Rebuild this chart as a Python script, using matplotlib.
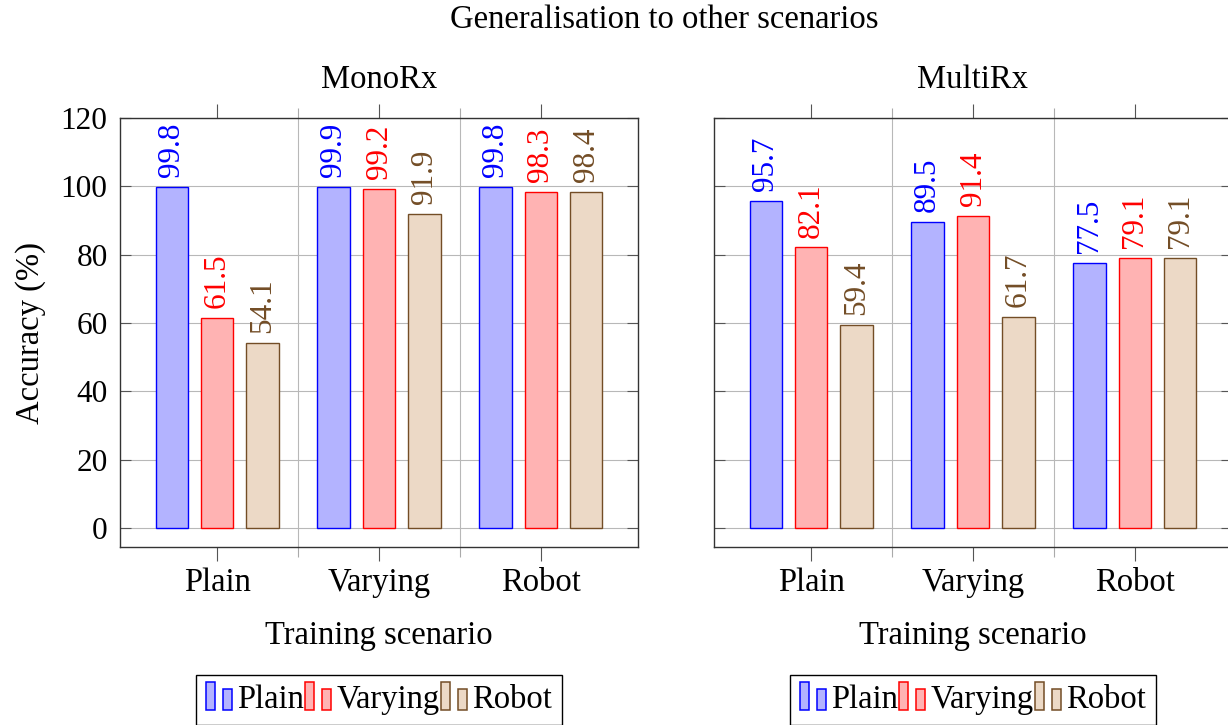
import matplotlib
matplotlib.use("Agg")
import matplotlib.pyplot as plt
from matplotlib.patches import Rectangle
from matplotlib.legend_handler import HandlerBase
import numpy as np

plt.rcParams['font.family'] = ['Liberation Serif', 'DejaVu Serif']

# data
categories = ['Plain', 'Varying', 'Robot']
series_names = ['Plain', 'Varying', 'Robot']
mono_plain = [99.8, 99.9, 99.8]
mono_varying = [61.5, 99.2, 98.3]
mono_robot = [54.1, 91.9, 98.4]
multi_plain = [95.7, 89.5, 77.5]
multi_varying = [82.1, 91.4, 79.1]
multi_robot = [59.4, 61.7, 79.1]
y_ticks = [0, 20, 40, 60, 80, 100, 120]

# pgfplots bar cycle: edge / fill / label colour
edge_cols = ['#0000ff', '#ff0000', '#734d26']
fill_cols = ['#b3b3ff', '#ffb3b3', '#ecd9c6']

FS = 23.5   # words
NS = 22.5   # numbers


class TwoBars(HandlerBase):
    # pgfplots style ybar legend: two little bars
    def create_artists(self, legend, orig_handle, xdescent, ydescent,
                       width, height, fontsize, trans):
        fc = orig_handle.get_facecolor()
        ec = orig_handle.get_edgecolor()
        w = width * 0.34
        r1 = Rectangle((-xdescent, -ydescent - 0.1 * height), w, height * 1.25,
                       facecolor=fc, edgecolor=ec, lw=1.1, transform=trans)
        r2 = Rectangle((-xdescent + width * 0.64, -ydescent - 0.1 * height), w, height * 0.95,
                       facecolor=fc, edgecolor=ec, lw=1.1, transform=trans)
        return [r1, r2]


fig = plt.figure(figsize=(12.28, 7.25), dpi=100)
ax1 = fig.add_axes([120 / 1228, 1 - 547 / 725, 518 / 1228, 429 / 725])
ax2 = fig.add_axes([714 / 1228, 1 - 547 / 725, 518 / 1228, 429 / 725])

x = np.arange(len(categories))
width = 0.2
offsets = [-0.28, 0.0, 0.28]

panels = [(ax1, 'MonoRx', [mono_plain, mono_varying, mono_robot]),
          (ax2, 'MultiRx', [multi_plain, multi_varying, multi_robot])]

for ax, title, series in panels:
    handles = []
    for i, vals in enumerate(series):
        rects = ax.bar(x + offsets[i], vals, width=width, color=fill_cols[i],
                       edgecolor=edge_cols[i], linewidth=1.0, zorder=3,
                       label=series_names[i])
        handles.append(rects[0])
        for r, v in zip(rects, vals):
            ax.annotate(f'{v:.1f}', (r.get_x() + r.get_width() / 2, v),
                        xytext=(0, 7), textcoords='offset points',
                        rotation=90, ha='center', va='bottom',
                        color=edge_cols[i], fontsize=NS, zorder=4)

    ax.set_xlim(-0.6, 2.6)
    ax.set_ylim(-5.6, 120)
    ax.set_xticks(x)
    ax.set_xticklabels(categories, fontsize=FS)
    ax.set_xticks([0.5, 1.5], minor=True)
    ax.set_yticks(y_ticks)
    ax.tick_params(axis='x', which='major', direction='out', top=True,
                   length=10, width=0.8, color='#555555', pad=5)
    ax.tick_params(axis='x', which='minor', direction='out', top=True,
                   length=7, width=0.8, color='#aaaaaa')
    ax.tick_params(axis='y', which='major', direction='in', left=True, right=True,
                   length=8, width=0.8, color='#555555', pad=9, labelsize=NS)
    ax.set_axisbelow(True)
    ax.grid(axis='y', which='major', color='#b8b8b8', lw=0.8)
    ax.grid(axis='x', which='minor', color='#b8b8b8', lw=0.8)
    for s in ax.spines.values():
        s.set_color('#333333')
        s.set_linewidth(1.0)

    ax.text(0.5, 1 + 38 / 429, title, transform=ax.transAxes,
            ha='center', va='center', fontsize=FS)
    ax.set_xlabel('Training scenario', fontsize=FS)
    ax.xaxis.set_label_coords(0.5, -0.172)

    leg = ax.legend(handles=handles, labels=series_names,
                    handler_map={h: TwoBars() for h in handles},
                    loc='upper center', bbox_to_anchor=(0.5, -0.298),
                    ncol=3, fontsize=FS, frameon=True, fancybox=False,
                    edgecolor='black', framealpha=1, borderaxespad=0,
                    handlelength=0.8, handleheight=0.7, handletextpad=0.15,
                    columnspacing=0.05, borderpad=0.3)
    leg.get_frame().set_linewidth(1.0)

ax1.set_ylabel('Accuracy (%)', fontsize=FS)
ax1.yaxis.set_label_coords(-0.142, 0.5)
ax2.tick_params(axis='y', labelleft=False)

fig.text(664 / 1228, 1 - 20 / 725, 'Generalisation to other scenarios',
         ha='center', va='center', fontsize=FS)

fig.savefig('out.png', dpi=100)
